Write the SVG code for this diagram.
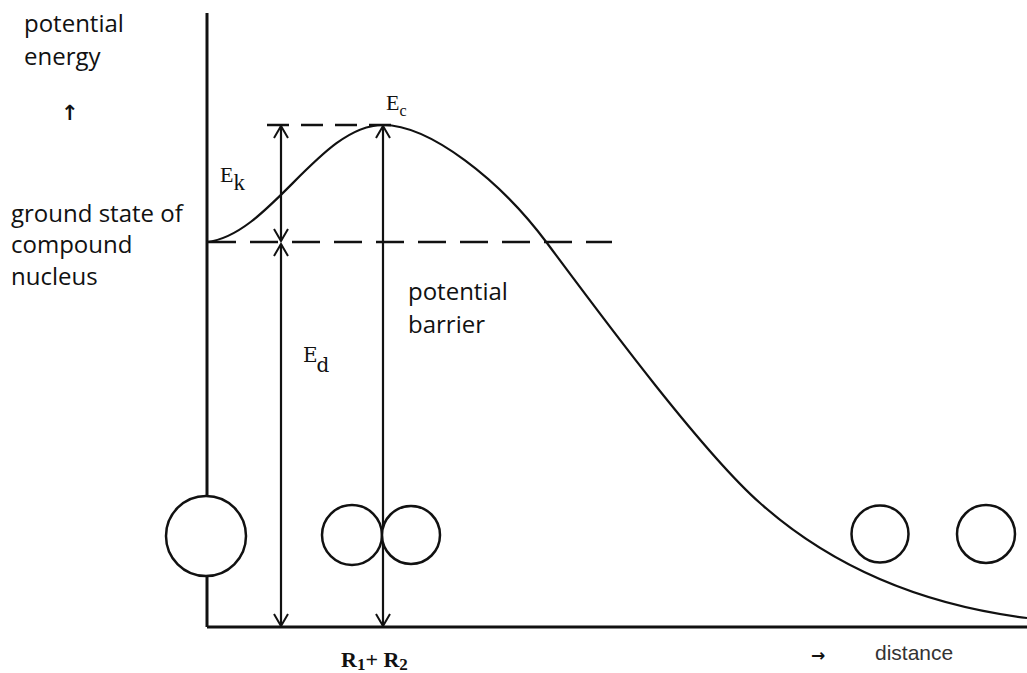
<svg xmlns="http://www.w3.org/2000/svg" width="1027" height="673" viewBox="0 0 1027 673">
<defs>
<style>
.ln{stroke:#111;fill:none;stroke-width:2.2}
.ax{stroke:#111;fill:none;stroke-width:3}
.dash{stroke:#111;fill:none;stroke-width:2.5}
.circ{stroke:#111;fill:#fff;stroke-width:2.5}
.lab{font-family:"Open Sans","Liberation Sans",sans-serif;font-size:24px;fill:#111}
.ser{font-family:"Liberation Serif",serif;fill:#111}
.slab{font-family:"DejaVu Serif",serif;fill:#111}
.sym{font-family:"DejaVu Sans",sans-serif;font-weight:bold;fill:#111}
</style>
<marker id="v" viewBox="-14 -10 16 20" refX="0" refY="0" markerWidth="16" markerHeight="20" markerUnits="userSpaceOnUse" orient="auto-start-reverse">
<path d="M-12,-7 L0,0 L-12,7" fill="none" stroke="#111" stroke-width="2"/>
</marker>
</defs>
<rect width="1027" height="673" fill="#fff"/>
<g id="axes">
<line class="ax" x1="207" y1="13" x2="207" y2="627"/>
<line class="ax" x1="207" y1="627" x2="1027" y2="627"/>
</g>
<g id="dashed-lines">
<line class="dash" x1="267" y1="125" x2="395" y2="125" stroke-dasharray="22 12"/>
<line class="dash" x1="208" y1="242" x2="612" y2="242" stroke-dasharray="28 14"/>
</g>
<g id="curve">
<path class="ln" stroke-width="2.8" d="M207,242 C270,235 320,125 383,125 C430,125 500,180 547,243 C594,306 700,450 760,503 C815,552 900,602 1027,618"/>
</g>
<g id="connectors">
<line class="ln" x1="281" y1="126" x2="281" y2="241" marker-start="url(#v)" marker-end="url(#v)"/>
<line class="ln" x1="281" y1="244" x2="281" y2="626" marker-start="url(#v)" marker-end="url(#v)"/>
<line class="ln" x1="383" y1="126" x2="383" y2="626" marker-start="url(#v)" marker-end="url(#v)"/>
</g>
<g id="nucleus-compound">
<circle class="circ" cx="206" cy="536" r="40"/>
</g>
<g id="nucleus-touching">
<circle class="circ" cx="352" cy="535" r="30" fill="none"/>
<circle class="circ" cx="411" cy="535" r="29" fill="none"/>
</g>
<g id="nucleus-separated">
<circle class="circ" cx="880" cy="534" r="28.5"/>
<circle class="circ" cx="986" cy="534" r="29"/>
</g>
<g id="labels">
<text class="lab" x="24" y="32">potential</text>
<text class="lab" x="24" y="65">energy</text>
<text class="sym" x="61" y="120" font-size="21">↑</text>
<text class="lab" x="11" y="222">ground state of</text>
<text class="lab" x="11" y="253">compound</text>
<text class="lab" x="11" y="285">nucleus</text>
<text class="lab" x="408" y="300">potential</text>
<text class="lab" x="408" y="333">barrier</text>
<text class="ser" x="386" y="110" font-size="22">E<tspan font-size="16" dy="6">c</tspan></text>
<text class="ser" x="220" y="182" font-size="22">E<tspan font-size="23" dy="8">k</tspan></text>
<text class="slab" x="303" y="362" font-size="20">E<tspan font-size="20" dx="-1" dy="10">d</tspan></text>
<text class="ser" x="341" y="667" font-size="22" font-weight="bold">R<tspan font-size="17" dy="3">1</tspan><tspan dy="-3">+  R</tspan><tspan font-size="17" dy="3">2</tspan></text>
<text class="sym" x="811" y="661" font-size="17">→</text>
<text x="875" y="660" font-family="Liberation Sans,sans-serif" font-size="21" fill="#333">distance</text>
</g>
</svg>
